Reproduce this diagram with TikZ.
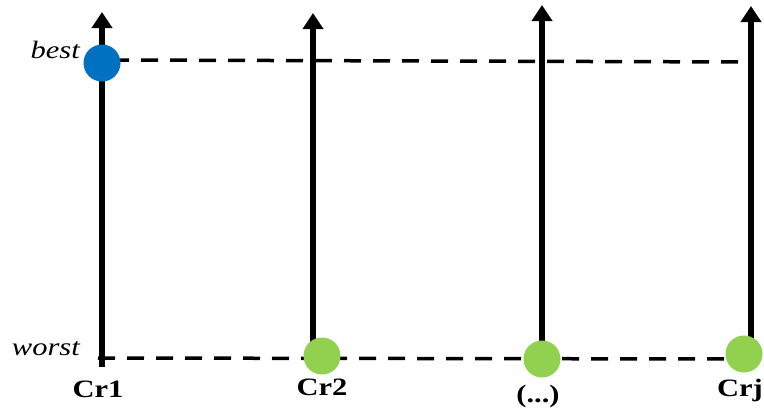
\documentclass[tikz,border=0pt]{standalone}
\usepackage{fontspec}
\setmainfont{Liberation Serif}
\usetikzlibrary{arrows.meta}
\definecolor{bestblue}{RGB}{0,112,192}
\definecolor{worstgreen}{RGB}{146,208,80}
\newcommand{\wide}[1]{\scalebox{1.22}[1]{#1}}
\begin{document}
\begin{tikzpicture}[x=1pt,y=-1pt,
  axis/.style={line width=5.5pt,-{Triangle[length=16pt,width=20pt]}},
  guide/.style={line width=3.5pt,dash pattern=on 17pt off 12pt},
  dotb/.style={circle,fill=bestblue,minimum size=37pt,inner sep=0pt},
  dotg/.style={circle,fill=worstgreen,minimum size=37pt,inner sep=0pt},
  crit/.style={font=\bfseries\fontsize{25}{28}\selectfont,anchor=base,inner sep=0pt},
  lvl/.style={font=\itshape\fontsize{25}{28}\selectfont,anchor=base east,inner sep=0pt}]
\useasboundingbox (0,0) rectangle (764,408);
% axes
\coordinate (b1) at (102,367); \coordinate (t1) at (102,12);
\coordinate (b2) at (313,350); \coordinate (t2) at (313,13);
\coordinate (b3) at (542,350); \coordinate (t3) at (542,5);
\coordinate (b4) at (751,350); \coordinate (t4) at (751,6);
% guide lines
\coordinate (bs) at (112,60); \coordinate (be) at (751,62);
\coordinate (ws) at (98,358); \coordinate (we) at (735,359);
\draw[guide] (bs) -- (be);
\draw[guide] (ws) -- (we);
\draw[axis] (b1) -- (t1);
\draw[axis] (b2) -- (t2);
\draw[axis] (b3) -- (t3);
\draw[axis] (b4) -- (t4);
% dots
\node[dotb] (best) at (102,63) {};
\node[dotg] (g2) at (322,356) {};
\node[dotg] (g3) at (542,359) {};
\node[dotg] (g4) at (744,354) {};
% labels
\node[lvl] (lb) at (80,58) {\wide{best}};
\node[lvl] (lw) at (80,355) {\wide{worst}};
\node[crit] (c1) at (98,397) {\wide{Cr1}};
\node[crit] (c2) at (322,395) {\wide{Cr2}};
\node[crit] (c3) at (538,402) {\wide{(...)}};
\node[crit] (c4) at (740,396) {\wide{Crj}};
\end{tikzpicture}
\end{document}
